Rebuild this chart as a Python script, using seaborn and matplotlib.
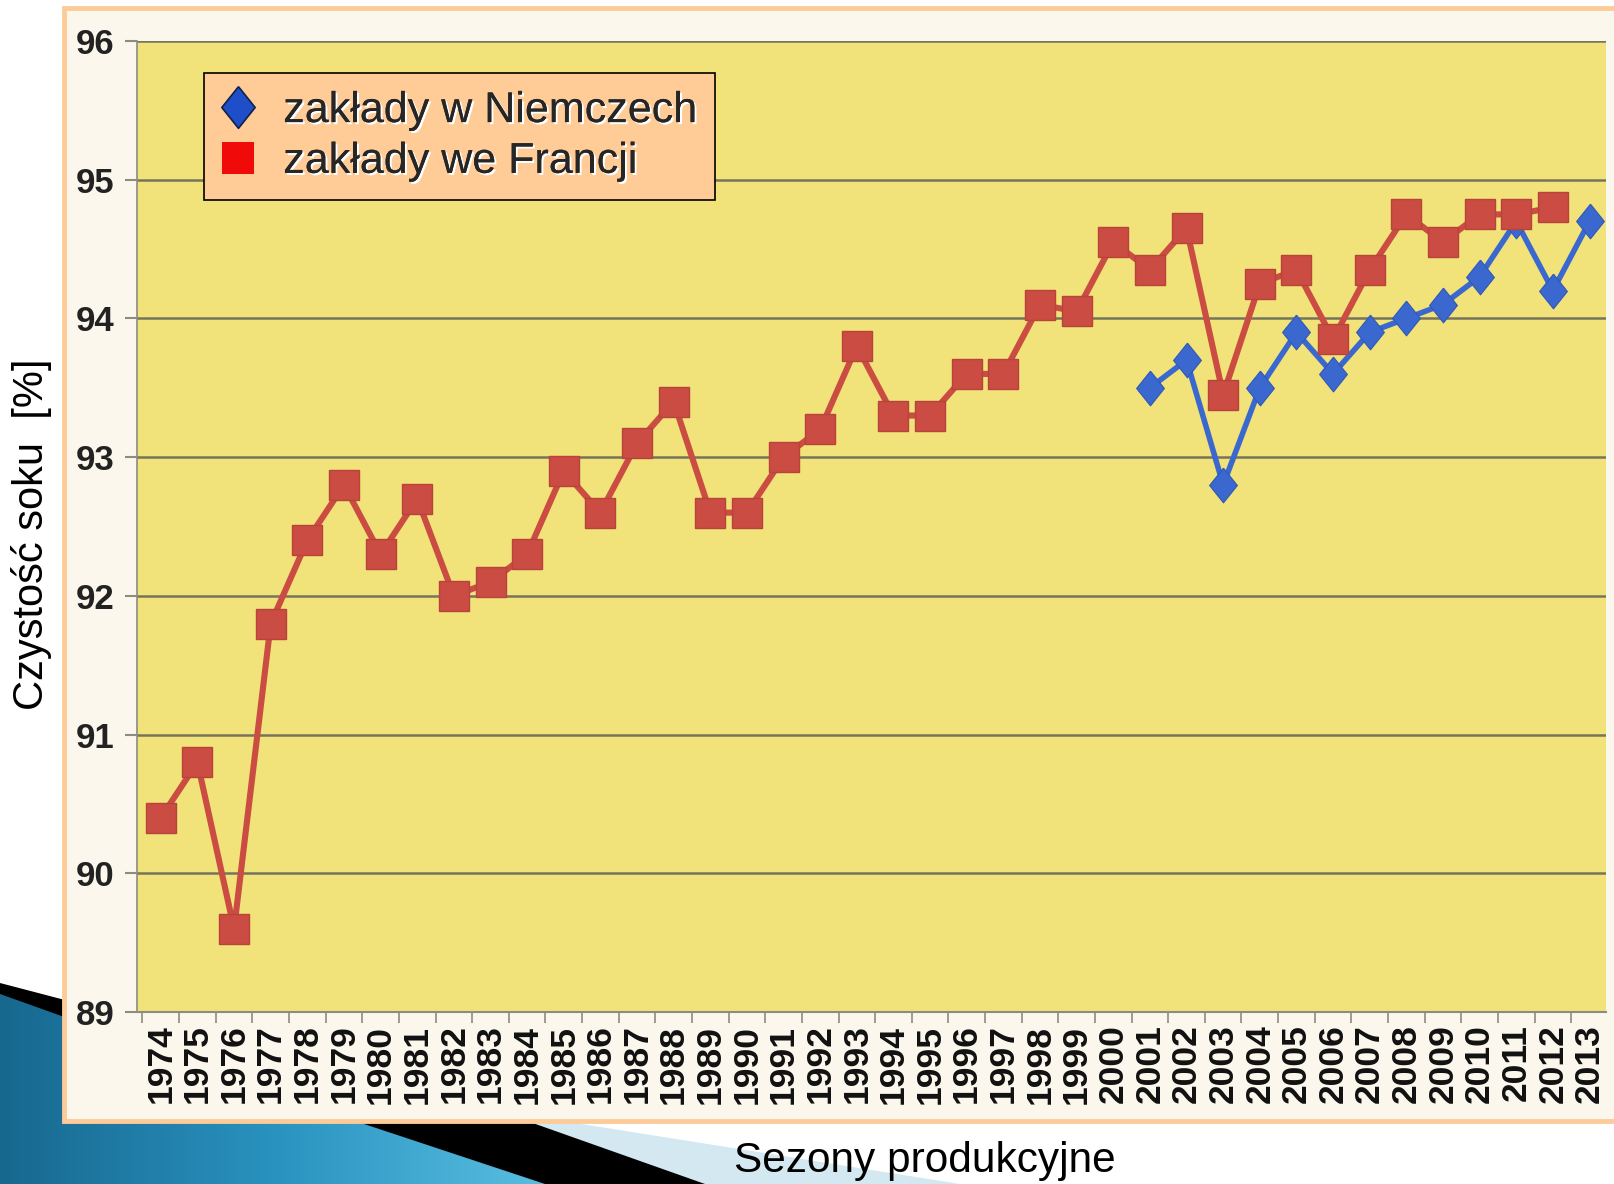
import numpy as np
import pandas as pd
import matplotlib
matplotlib.use("Agg")
import matplotlib.pyplot as plt
import seaborn as sns
from matplotlib.patches import Polygon, Rectangle
from matplotlib.lines import Line2D
from matplotlib.colors import LinearSegmentedColormap
import matplotlib.patheffects as pe

# ---------------- data ----------------
years = list(range(1974, 2014))
france = [90.4, 90.8, 89.6, 91.8, 92.4, 92.8, 92.3, 92.7, 92.0, 92.1,
          92.3, 92.9, 92.6, 93.1, 93.4, 92.6, 92.6, 93.0, 93.2, 93.8,
          93.3, 93.3, 93.6, 93.6, 94.1, 94.05, 94.55, 94.35, 94.65, 93.45,
          94.25, 94.35, 93.85, 94.35, 94.75, 94.55, 94.75, 94.75, 94.8, np.nan]
germany_years = list(range(2001, 2014))
germany = [93.5, 93.7, 92.8, 93.5, 93.9, 93.6, 93.9, 94.0, 94.1, 94.3,
           94.7, 94.2, 94.7]
y_ticks = [89, 90, 91, 92, 93, 94, 95, 96]
label_de = "zakłady w Niemczech"
label_fr = "zakłady we Francji"
x_title = "Sezony produkcyjne"
y_title = "Czystość soku  [%]"

df_fr = pd.DataFrame({"rok": years, "czystosc": france})
df_de = pd.DataFrame({"rok": germany_years, "czystosc": germany})

# ---------------- style ----------------
sns.set_theme(style="white")
plt.rcParams["font.family"] = ["Liberation Sans", "DejaVu Sans"]

W, H = 1615, 1184
fig = plt.figure(figsize=(W / 100, H / 100), dpi=100)
fig.patch.set_facecolor("white")

# background / slide decoration axes in pixel coordinates
bg = fig.add_axes([0, 0, 1, 1], zorder=-10)
bg.set_xlim(0, W)
bg.set_ylim(H, 0)
bg.axis("off")

light = Polygon([(430, 1100), (960, 1184), (430, 1184)], closed=True,
                facecolor="#D4E8F1", edgecolor="none")
bg.add_patch(light)
black = Polygon([(0, 983), (527, 1121), (705, 1184), (0, 1184)], closed=True,
                facecolor="black", edgecolor="none")
bg.add_patch(black)
blue_poly = Polygon([(0, 994), (355, 1121), (545, 1184), (0, 1184)], closed=True,
                    facecolor="none", edgecolor="none")
bg.add_patch(blue_poly)
grad = np.linspace(0, 1, 256).reshape(1, -1)
cmap_blue = LinearSegmentedColormap.from_list("bl", ["#17688F", "#2A93C0", "#5BC0E2"])
im = bg.imshow(grad, cmap=cmap_blue, extent=(0, 560, 1184, 990), aspect="auto",
               zorder=2)
im.set_clip_path(blue_poly)

# picture frame
frame = Rectangle((64, 8), 1620, 1113, facecolor="#FBF7EC",
                  edgecolor="#FDCB99", linewidth=3.5, zorder=3)
bg.add_patch(frame)

bg.text(32, 534, y_title, rotation=90, ha="center", va="center",
        fontsize=30, color="black", zorder=5)
bg.text(925, 1161, x_title, ha="center", va="center",
        fontsize=30.5, color="black", zorder=5)

# ---------------- main axes ----------------
x0, x1, ytop, ybot = 137, 1606, 41, 1012
ax = fig.add_axes([x0 / W, 1 - ybot / H, (x1 - x0) / W, (ybot - ytop) / H])
ax.set_facecolor("#F1E27A")

blue = "#3B68CF"
red = "#CB4C42"
tall_diamond = [(0, 1), (0.8, 0), (0, -1), (-0.8, 0), (0, 1)]
sns.lineplot(data=df_de, x="rok", y="czystosc", ax=ax, color=blue,
             linewidth=4.0, marker=tall_diamond, markersize=25,
             markeredgewidth=0.8, markeredgecolor="#2F58B8", legend=False,
             zorder=3)
sns.lineplot(data=df_fr, x="rok", y="czystosc", ax=ax, color=red,
             linewidth=4.4, marker="s", markersize=22, markeredgewidth=1.0,
             markeredgecolor="#B8433A", legend=False, zorder=4)

ax.set_xlim(1973.35, 2013.45)
ax.set_ylim(89, 96)
ax.set_yticks(y_ticks)
ax.set_yticklabels([str(v) for v in y_ticks], fontsize=25, fontweight="bold",
                   color="#222222")
ax.set_xticks(years)
ax.set_xticklabels([str(y) for y in years], rotation=90, fontsize=25.5,
                   fontweight="bold", color="#111111")
ax.set_xticks(np.arange(1973.5, 2013.5, 1.0), minor=True)
ax.tick_params(axis="x", which="major", length=0, pad=9)
ax.tick_params(axis="x", which="minor", length=8, width=1.2, color="#8C8C80",
               direction="out", bottom=True)
ax.tick_params(axis="y", which="major", length=9, width=1.5, color="#8C8C80",
               direction="out", left=True, pad=7)
ax.grid(axis="y", color="#77745C", linewidth=1.8)
ax.grid(axis="x", visible=False)
ax.set_xlabel("")
ax.set_ylabel("")
for s in ["top", "right"]:
    ax.spines[s].set_visible(False)
ax.spines["left"].set_color("#8C8C80")
ax.spines["left"].set_linewidth(1.2)
ax.spines["bottom"].set_color("#8C8C80")
ax.spines["bottom"].set_linewidth(1.5)

handles = [
    Line2D([], [], linestyle="none", marker=tall_diamond, markersize=30,
           color="#1E4FC8", markeredgecolor="#10204A", markeredgewidth=1.2),
    Line2D([], [], linestyle="none", marker="s", markersize=23, color="#F00A0A",
           markeredgewidth=0),
]
leg = ax.legend(handles, [label_de, label_fr], loc="upper left",
                bbox_to_anchor=((204 - x0) / (x1 - x0), (ybot - 73) / (ybot - ytop)),
                borderaxespad=0, frameon=True, fancybox=False, framealpha=1,
                facecolor="#FFCB96", edgecolor="black", fontsize=31,
                handlelength=0.75, handletextpad=0.67, labelspacing=0.25,
                borderpad=0.42)
leg.get_frame().set_linewidth(1.2)
for t in leg.get_texts():
    t.set_path_effects([pe.withSimplePatchShadow(offset=(1.5, -1.5),
                                                 shadow_rgbFace="white", alpha=1.0),
                        pe.Normal()])
# legend box size like in the reference (display pixels)
fig.canvas.draw()
leg.get_frame().set_width(522)

fig.savefig("out.png", dpi=100)
